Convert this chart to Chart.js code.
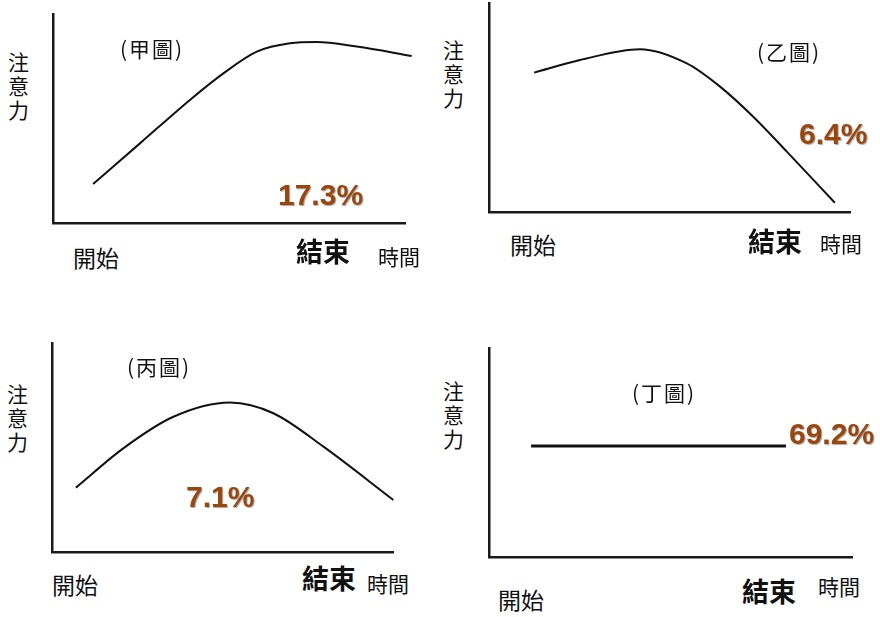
<!DOCTYPE html>
<html>
<head>
<meta charset="utf-8">
<script src="https://cdn.jsdelivr.net/npm/chart.js@4/dist/chart.umd.min.js"></script>
<style>
  html, body { margin: 0; padding: 0; background: #fff; }
  #page { position: relative; width: 880px; height: 617px; overflow: hidden; }
  .box { position: absolute; }
  .lbl { position: absolute; white-space: nowrap; line-height: 1; color: #111;
         font-family: "Noto Sans CJK TC", "Noto Sans CJK SC", sans-serif; }
  .pct { position: absolute; white-space: nowrap; line-height: 1; color: #99470f;
         font-family: "Liberation Sans", Arial, sans-serif; font-weight: bold; font-size: 30px;
         text-shadow: 1px 1px 1px rgba(0,0,0,0.35); }
</style>
</head>
<body>
<div id="page"></div>
<script>
// attention (0-100) over time (0-100)
const panelTitles = ['(甲圖)', '(乙圖)', '(丙圖)', '(丁圖)'];
const shares = ['17.3%', '6.4%', '7.1%', '69.2%'];

const jiaTime = [11.4, 24.7, 38.9, 48.4, 57.9, 67.3, 74.9, 86.3, 101.9];
const jiaAttention = [18.7, 38.1, 58.9, 71.6, 82.0, 86.0, 86.6, 84.4, 79.9];

const yiTime = [12.5, 25.2, 41.8, 54.8, 64.0, 73.2, 82.5, 95.8];
const yiAttention = [66.7, 72.7, 77.9, 71.1, 60.0, 45.6, 28.9, 4.4];

const bingTime = [7.0, 20.9, 35.6, 52.2, 64.9, 79.6, 100.1];
const bingAttention = [30.8, 49.6, 64.7, 71.5, 66.4, 50.4, 24.9];

const dingTime = [11.6, 81.8];
const dingAttention = [53.1, 53.1];

const axisLabel = '注意力';
const startLabel = '開始';
const endLabel = '結束';
const timeLabel = '時間';

// layout of each panel: axis box + where its texts sit
const panels = [
  { x0: 53, y0: 14, w: 352, h: 209, time: jiaTime, att: jiaAttention, lw: 2,
    ax: [8, 49], title: [120, 38], pct: [278, 180], start: [73, 246], end: [296, 237], tm: [378, 246] },
  { x0: 489, y0: 3, w: 361, h: 209, time: yiTime, att: yiAttention, lw: 2,
    ax: [443, 37], title: [757, 41], pct: [799, 119], start: [510, 233], end: [748, 227], tm: [820, 233] },
  { x0: 52, y0: 343, w: 341, h: 209, time: bingTime, att: bingAttention, lw: 2,
    ax: [7, 381], title: [127, 356], pct: [186, 482], start: [52, 573], end: [302, 564], tm: [367, 573] },
  { x0: 489, y0: 348, w: 363, h: 209, time: dingTime, att: dingAttention, lw: 3,
    ax: [443, 378], title: [632, 382], pct: [789, 419], start: [498, 588], end: [742, 577], tm: [818, 576] }
];

const page = document.getElementById('page');

function addText(cls, x, y, text, css) {
  const d = document.createElement('div');
  d.className = cls;
  d.style.left = x + 'px';
  d.style.top = y + 'px';
  d.textContent = text;
  Object.assign(d.style, css || {});
  page.appendChild(d);
  return d;
}

panels.forEach(function(p, i) {
  const pad = { left: 6, right: 14, top: 4, bottom: 4 };
  const box = document.createElement('div');
  box.className = 'box';
  box.style.left = (p.x0 - pad.left) + 'px';
  box.style.top = (p.y0 - pad.top) + 'px';
  box.style.width = (p.w + pad.left + pad.right) + 'px';
  box.style.height = (p.h + pad.top + pad.bottom) + 'px';
  const canvas = document.createElement('canvas');
  box.appendChild(canvas);
  page.appendChild(box);

  const points = p.time.map(function(t, k) { return { x: t, y: p.att[k] }; });

  new Chart(canvas.getContext('2d'), {
    type: 'line',
    data: {
      datasets: [{
        data: points,
        borderColor: '#111',
        borderWidth: p.lw,
        pointRadius: 0,
        cubicInterpolationMode: 'monotone',
        fill: false,
        clip: false
      }]
    },
    options: {
      responsive: true,
      maintainAspectRatio: false,
      animation: false,
      layout: { padding: pad },
      plugins: { legend: { display: false }, tooltip: { enabled: false } },
      scales: {
        x: {
          type: 'linear', min: 0, max: 100,
          grid: { display: false, drawTicks: false },
          ticks: { display: false },
          border: { display: true, color: '#1a1a1a', width: 2.5 }
        },
        y: {
          type: 'linear', min: 0, max: 100,
          grid: { display: false, drawTicks: false },
          ticks: { display: false },
          border: { display: true, color: '#1a1a1a', width: 2.5 }
        }
      }
    }
  });

  addText('lbl', p.ax[0], p.ax[1], axisLabel,
    { fontSize: '21px', width: '22px', whiteSpace: 'normal', lineHeight: '24px', wordBreak: 'break-all' });
  addText('lbl', p.title[0], p.title[1], panelTitles[i], { fontSize: '21px', letterSpacing: '2px' });
  addText('pct', p.pct[0], p.pct[1], shares[i]);
  addText('lbl', p.start[0], p.start[1], startLabel, { fontSize: '23px' });
  addText('lbl', p.end[0], p.end[1], endLabel, { fontSize: '27px', fontWeight: 'bold' });
  addText('lbl', p.tm[0], p.tm[1], timeLabel, { fontSize: '21px' });
});
</script>
</body>
</html>
